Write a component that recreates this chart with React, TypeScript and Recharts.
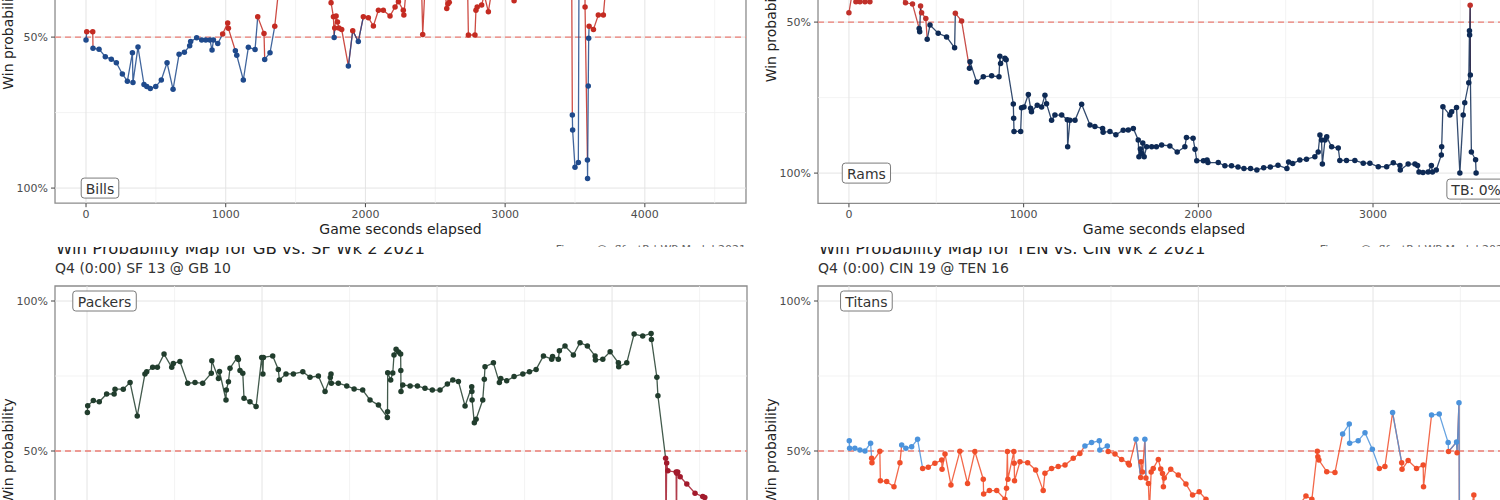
import React from 'react';
import { ComposedChart, Line, XAxis, YAxis, ReferenceLine, ReferenceArea, ReferenceDot } from 'recharts';

const FONT = '"DejaVu Sans", sans-serif';

// ---------- Bills (top-left) ----------
const billsSeconds = [0,5,48,50,93,138,181,217,260,296,332,336,372,415,435,460,499,539,580,623,666,704,742,749,792,828,857,887,902,912,943,978,1014,1019,1069,1079,1126,1162,1210,1229,1274,1279,1317,1351,1400,1500,1600,1700,1754,1771,1776,1780,1790,1800,1810,1830,1878,1909,1949,1985,2021,2057,2093,2128,2176,2212,2236,2271,2275,2300,2400,2410,2430,2560,2582,2590,2600,2620,2730,2737,2784,2791,2800,2832,2850,2880,2920,3064,3100,3300,3475,3481,3483,3500,3524,3530,3570,3572,3589,3590,3595,3598,3601,3632,3667,3703,3727,3900,4200,4440];
const billsWp = [0.51,0.482,0.482,0.537,0.54,0.565,0.573,0.585,0.622,0.646,0.552,0.65,0.533,0.657,0.664,0.67,0.664,0.642,0.585,0.673,0.557,0.55,0.529,0.515,0.502,0.51,0.51,0.51,0.543,0.51,0.521,0.49,0.453,0.471,0.545,0.56,0.642,0.534,0.541,0.433,0.488,0.574,0.552,0.464,0.25,0.2,0.22,0.25,0.386,0.433,0.501,0.47,0.43,0.45,0.47,0.475,0.596,0.479,0.515,0.433,0.436,0.463,0.411,0.411,0.43,0.4,0.383,0.411,0.427,0.3,0.3,0.491,0.3,0.3,0.405,0.39,0.385,0.3,0.3,0.493,0.493,0.411,0.4,0.394,0.36,0.416,0.3,0.38,0.3,0.2,0.15,0.758,0.808,0.931,0.915,0.1,0.1,0.4,0.907,0.968,0.662,0.504,0.464,0.475,0.427,0.427,0.3,0.2,0.1,0.0];

// ---------- Rams (top-right) ----------
const ramsSeconds = [0,20,40,63,92,120,200,280,324,364,402,405,410,416,440,448,464,511,559,605,609,645,690,693,731,769,817,859,864,868,893,900,941,943,945,983,988,1002,1027,1040,1045,1078,1103,1122,1131,1160,1179,1218,1250,1252,1265,1294,1332,1380,1408,1452,1455,1494,1528,1570,1599,1628,1656,1660,1668,1675,1682,1690,1704,1733,1760,1790,1837,1879,1923,1932,1970,1981,1991,2029,2050,2055,2114,2152,2190,2227,2261,2299,2335,2374,2412,2456,2507,2517,2540,2581,2619,2667,2686,2696,2705,2710,2725,2735,2763,2801,2810,2848,2896,2944,2982,3030,3078,3116,3154,3156,3201,3240,3255,3263,3286,3315,3334,3340,3362,3391,3393,3400,3440,3450,3478,3497,3516,3525,3548,3552,3553,3556,3557,3563,3587,3590];
const ramsWp = [0.469,0.40,0.433,0.433,0.433,0.433,0.38,0.40,0.436,0.44,0.521,0.532,0.447,0.469,0.488,0.557,0.51,0.537,0.549,0.585,0.471,0.496,0.653,0.631,0.698,0.681,0.678,0.681,0.613,0.637,0.62,0.625,0.771,0.818,0.862,0.862,0.784,0.781,0.74,0.785,0.797,0.775,0.781,0.742,0.77,0.825,0.808,0.808,0.823,0.913,0.825,0.825,0.772,0.841,0.846,0.852,0.865,0.862,0.873,0.858,0.857,0.852,0.89,0.946,0.92,0.935,0.9,0.946,0.913,0.913,0.913,0.907,0.91,0.93,0.913,0.882,0.885,0.921,0.959,0.959,0.957,0.965,0.965,0.976,0.976,0.98,0.985,0.985,0.99,0.982,0.98,0.974,0.985,0.963,0.968,0.957,0.954,0.946,0.93,0.874,0.89,0.97,0.89,0.88,0.913,0.917,0.958,0.958,0.958,0.967,0.967,0.979,0.979,0.966,0.975,0.99,0.97,0.97,0.975,0.996,0.998,0.996,0.975,0.996,0.99,0.94,0.913,0.78,0.808,0.797,0.783,1.0,0.808,0.767,0.701,0.529,0.543,0.444,0.675,0.93,0.956,1.0];

// ---------- Packers (bottom-left) ----------
const packersSeconds = [2,4,36,70,112,155,160,207,246,287,331,341,375,402,440,484,493,531,575,617,661,710,713,751,757,794,796,808,817,859,865,874,890,897,931,966,998,1005,1008,1061,1093,1099,1137,1179,1233,1274,1322,1360,1390,1394,1396,1436,1484,1526,1575,1617,1665,1716,1717,1718,1735,1747,1754,1766,1780,1792,1793,1794,1804,1846,1888,1931,1973,2017,2059,2090,2122,2160,2198,2199,2200,2213,2223,2261,2270,2274,2322,2356,2364,2398,2440,2490,2528,2566,2608,2655,2660,2693,2699,2731,2779,2817,2859,2903,2905,2947,2989,3036,3038,3084,3126,3175,3223,3225,3256,3262,3306,3308,3312,3319,3366,3368,3370,3375,3389,3427,3474,3518,3530,3560,3600];
const packersWp = [0.628,0.651,0.668,0.664,0.69,0.69,0.706,0.706,0.728,0.617,0.757,0.764,0.779,0.779,0.823,0.779,0.792,0.798,0.726,0.728,0.726,0.759,0.801,0.742,0.765,0.67,0.703,0.731,0.776,0.812,0.805,0.768,0.759,0.676,0.664,0.648,0.812,0.757,0.812,0.817,0.772,0.737,0.757,0.757,0.764,0.746,0.75,0.698,0.745,0.757,0.726,0.726,0.717,0.707,0.703,0.67,0.653,0.612,0.631,0.761,0.737,0.76,0.82,0.839,0.83,0.823,0.768,0.698,0.72,0.717,0.717,0.709,0.703,0.703,0.723,0.737,0.732,0.65,0.714,0.698,0.67,0.594,0.606,0.67,0.739,0.781,0.794,0.728,0.742,0.734,0.748,0.757,0.764,0.772,0.817,0.806,0.815,0.806,0.834,0.85,0.82,0.861,0.85,0.817,0.803,0.806,0.831,0.794,0.781,0.794,0.89,0.883,0.892,0.872,0.746,0.684,0.476,0.2,0.46,0.434,0.43,0.2,0.426,0.43,0.414,0.39,0.359,0.348,0.345,0.2,0.0];

// ---------- Titans (bottom-right) ----------
const titansSeconds = [2,4,34,63,92,124,130,132,177,180,216,258,292,302,326,359,393,422,454,492,531,533,550,584,635,679,721,769,771,804,846,893,902,907,910,944,946,948,979,1023,1069,1112,1122,1160,1198,1237,1284,1322,1351,1389,1433,1436,1479,1484,1523,1561,1599,1605,1643,1670,1672,1680,1694,1700,1714,1720,1730,1742,1771,1785,1795,1800,1805,1842,1885,1929,1967,2005,2044,2100,2250,2400,2550,2616,2650,2681,2684,2690,2735,2782,2826,2864,2866,2915,2954,2996,3036,3068,3112,3164,3166,3201,3249,3287,3289,3335,3379,3430,3432,3478,3481,3492,3495,3577,3600];
const titansWp = [0.534,0.509,0.509,0.503,0.5,0.526,0.476,0.461,0.499,0.401,0.398,0.381,0.461,0.52,0.509,0.514,0.539,0.442,0.446,0.459,0.47,0.439,0.49,0.387,0.499,0.392,0.498,0.406,0.357,0.368,0.368,0.339,0.376,0.498,0.406,0.498,0.459,0.401,0.464,0.461,0.437,0.368,0.426,0.442,0.448,0.453,0.476,0.492,0.517,0.528,0.534,0.503,0.517,0.498,0.49,0.472,0.459,0.453,0.539,0.412,0.464,0.43,0.539,0.41,0.392,0.3,0.43,0.442,0.472,0.44,0.425,0.381,0.41,0.439,0.42,0.39,0.353,0.364,0.339,0.3,0.25,0.28,0.3,0.35,0.339,0.499,0.481,0.47,0.431,0.428,0.557,0.59,0.526,0.534,0.561,0.506,0.442,0.448,0.628,0.461,0.439,0.468,0.442,0.453,0.381,0.62,0.623,0.528,0.498,0.53,0.494,0.661,0.1,0.353,0.0];

// ---------- axis ticks ----------
const xTicksLong = [0, 1000, 2000, 3000, 4000];
const xMinorLong = [500, 1500, 2500, 3500, 4500];
const xTicksShort = [0, 1000, 2000, 3000];
const xMinorShort = [500, 1500, 2500, 3500];
const yTicks = [0, 0.5, 1];
const yMinor = [0.25, 0.75];

const titlePackers = 'Win Probability Map for GB vs. SF Wk 2 2021';
const subtitlePackers = 'Q4 (0:00) SF 13 @ GB 10';
const titleTitans = 'Win Probability Map for TEN vs. CIN Wk 2 2021';
const subtitleTitans = 'Q4 (0:00) CIN 19 @ TEN 16';
const captionText = 'Figure: @nflfastR | WP Model 2021';

type Cfg = {
  id: string;
  seconds: number[];
  wp: number[];
  hi: string;
  lo: string;
  xDomain: [number, number];
  xTicks: number[];
  xMinor: number[];
  yDomain: [number, number];
  reversed: boolean;
  clip: { left: number; top: number; width: number; height: number };
  plotLeft: number;
  plotRight: number;
  y50: number;
  k: number;
  marginLeft: number;
  labels: { text: string; s: number; v: number }[];
  title?: string;
  subtitle?: string;
  caption?: boolean;
};

const CW: Record<string, number> = {
  B: 0.686, i: 0.278, l: 0.278, s: 0.521, R: 0.695, a: 0.613, m: 0.974, P: 0.603, c: 0.55,
  k: 0.579, e: 0.615, r: 0.411, T: 0.61, t: 0.392, n: 0.634, ':': 0.337, ' ': 0.318, '0': 0.636, '%': 0.95,
};
const textW = (t: string, fs: number) => t.split('').reduce((a, ch) => a + (CW[ch] ?? 0.6), 0) * fs;

const pct = (v: number) => `${Math.round(v * 100)}%`;

const makeLabel = (text: string) => (p: any) => {
  const { cx, cy } = p;
  if (cx == null || cy == null) return <g />;
  const w = textW(text, 14) + 9;
  const h = 20;
  return (
    <g>
      <rect x={cx - w / 2} y={cy - h / 2} width={w} height={h} rx={3} ry={3} fill="#fff" stroke="#7a7a7a" strokeWidth={1} />
      <text x={cx} y={cy + 0.5} textAnchor="middle" dominantBaseline="central" fontSize={14} fill="#333" fontFamily={FONT}>
        {text}
      </text>
    </g>
  );
};

function buildRows(seconds: number[], wp: number[]) {
  const n = Math.min(seconds.length, wp.length);
  const rows: any[] = [];
  for (let i = 0; i < n; i++) rows.push({ s: seconds[i], v: wp[i], hiSeg: null, loSeg: null });
  for (let i = 0; i < n - 1; i++) {
    const key = wp[i] >= 0.5 ? 'hiSeg' : 'loSeg';
    rows[i][key] = wp[i];
    rows[i + 1][key] = wp[i + 1];
  }
  return rows;
}

const MT = 5;
const MB = 5;
const MR = 5;
const XH = 35;

function Panel({ cfg }: { cfg: Cfg }) {
  const rows = buildRows(cfg.seconds, cfg.wp);
  const { clip, reversed, yDomain, y50, k } = cfg;
  const plotTop = reversed ? y50 + (yDomain[0] - 0.5) * k : y50 - (yDomain[1] - 0.5) * k;
  const plotBottom = reversed ? y50 + (yDomain[1] - 0.5) * k : y50 - (yDomain[0] - 0.5) * k;
  const chartTop = plotTop - MT - clip.top;
  const chartH = MT + (plotBottom - plotTop) + XH + MB;
  const chartW = cfg.plotRight - clip.left + MR;
  const yW = cfg.plotLeft - clip.left - cfg.marginLeft;

  const dotFn = (p: any) => {
    const { cx, cy, payload, index } = p;
    if (cx == null || cy == null || !isFinite(cx) || !isFinite(cy)) return <g key={`d${index}`} />;
    return <circle key={`d${index}`} cx={cx} cy={cy} r={2.75} fill={payload.v >= 0.5 ? cfg.hi : cfg.lo} />;
  };

  const xLabel = (p: any) => {
    const vb = p.viewBox || {};
    return (
      <text x={vb.x + vb.width / 2} y={vb.y + 26} textAnchor="middle" dominantBaseline="central" fontSize={14} fill="#222" fontFamily={FONT}>
        Game seconds elapsed
      </text>
    );
  };
  const yLabel = (p: any) => {
    const vb = p.viewBox || {};
    const x = vb.x + 8;
    const y = vb.y + vb.height / 2;
    return (
      <text x={x} y={y} transform={`rotate(-90, ${x}, ${y})`} textAnchor="middle" dominantBaseline="central" fontSize={14} fill="#222" fontFamily={FONT}>
        Win probability
      </text>
    );
  };

  return (
    <div style={{ position: 'absolute', left: clip.left, top: clip.top, width: clip.width, height: clip.height, overflow: 'hidden', background: '#fff' }}>
      <div style={{ position: 'absolute', left: 0, top: chartTop }}>
        <ComposedChart width={chartW} height={chartH} data={rows} margin={{ top: MT, right: MR, bottom: MB, left: cfg.marginLeft }}>
          <XAxis
            type="number"
            dataKey="s"
            domain={cfg.xDomain}
            ticks={cfg.xTicks}
            interval={0}
            allowDataOverflow
            height={XH}
            axisLine={false}
            tickSize={4}
            tickMargin={3}
            tickLine={{ stroke: '#444' }}
            tick={{ fontSize: 11, fill: '#4d4d4d', fontFamily: FONT }}
            label={{ content: xLabel }}
          />
          <YAxis
            type="number"
            domain={cfg.yDomain}
            ticks={yTicks}
            interval={0}
            reversed={reversed}
            allowDataOverflow
            width={yW}
            axisLine={false}
            tickSize={4}
            tickMargin={3}
            tickLine={{ stroke: '#444' }}
            tickFormatter={pct}
            tick={{ fontSize: 11, fill: '#4d4d4d', fontFamily: FONT }}
            label={{ content: yLabel }}
          />
          {cfg.xMinor.map((x) => (
            <ReferenceLine key={`xm${x}`} x={x} stroke="#f0f0f0" strokeWidth={0.8} />
          ))}
          {yMinor.map((y) => (
            <ReferenceLine key={`ym${y}`} y={y} stroke="#f0f0f0" strokeWidth={0.8} />
          ))}
          {cfg.xTicks.map((x) => (
            <ReferenceLine key={`xM${x}`} x={x} stroke="#e4e4e4" strokeWidth={1} />
          ))}
          {yTicks.map((y) => (
            <ReferenceLine key={`yM${y}`} y={y} stroke="#e4e4e4" strokeWidth={1} />
          ))}
          <ReferenceArea x1={cfg.xDomain[0]} x2={cfg.xDomain[1]} y1={cfg.yDomain[0]} y2={cfg.yDomain[1]} fill="none" fillOpacity={0} stroke="#8c8c8c" strokeWidth={1.3} />
          <ReferenceLine y={0.5} stroke="#ec7d74" strokeDasharray="6 4" strokeWidth={1.3} />
          <Line type="linear" dataKey="loSeg" stroke={cfg.lo} strokeOpacity={0.85} strokeWidth={1.3} dot={false} activeDot={false} connectNulls={false} isAnimationActive={false} />
          <Line type="linear" dataKey="hiSeg" stroke={cfg.hi} strokeOpacity={0.85} strokeWidth={1.3} dot={false} activeDot={false} connectNulls={false} isAnimationActive={false} />
          <Line type="linear" dataKey="v" stroke="none" strokeWidth={0} dot={dotFn} activeDot={false} isAnimationActive={false} />
          {cfg.labels.map((lb) => (
            <ReferenceDot key={lb.text} x={lb.s} y={lb.v} r={0} ifOverflow="visible" shape={makeLabel(lb.text)} />
          ))}
        </ComposedChart>
      </div>
      <svg width={clip.width} height={clip.height} style={{ position: 'absolute', left: 0, top: 0, pointerEvents: 'none' }}>
        {cfg.title && (
          <text x={cfg.plotLeft - clip.left + 1} y={254 - clip.top} fontSize={16.5} fill="#222" fontFamily={FONT}>
            {cfg.title}
          </text>
        )}
        {cfg.subtitle && (
          <text x={cfg.plotLeft - clip.left} y={272.5 - clip.top} fontSize={14} fill="#333" fontFamily={FONT}>
            {cfg.subtitle}
          </text>
        )}
        {cfg.caption && (
          <text x={cfg.plotRight - clip.left} y={253 - clip.top} textAnchor="end" fontSize={11} fill="#666" fontFamily={FONT}>
            {captionText}
          </text>
        )}
      </svg>
    </div>
  );
}

const panels: Cfg[] = [
  {
    id: 'bills', seconds: billsSeconds, wp: billsWp, hi: '#1f4a8c', lo: '#c42b22',
    xDomain: [-222, 4724], xTicks: xTicksLong, xMinor: xMinorLong,
    yDomain: [-0.05, 1.05], reversed: true,
    clip: { left: 0, top: 0, width: 750, height: 247 },
    plotLeft: 55, plotRight: 746, y50: 37, k: 302, marginLeft: 0,
    labels: [{ text: 'Bills', s: 100, v: 1 }], caption: true,
  },
  {
    id: 'rams', seconds: ramsSeconds, wp: ramsWp, hi: '#0e2a55', lo: '#c0302a',
    xDomain: [-177, 3784], xTicks: xTicksShort, xMinor: xMinorShort,
    yDomain: [-0.05, 1.1], reversed: true,
    clip: { left: 750, top: 0, width: 750, height: 247 },
    plotLeft: 818, plotRight: 1510, y50: 22, k: 302, marginLeft: 13,
    labels: [{ text: 'Rams', s: 100, v: 1 }, { text: 'TB: 0%', s: 3590, v: 1.053 }], caption: true,
  },
  {
    id: 'packers', seconds: packersSeconds, wp: packersWp, hi: '#213d2d', lo: '#a21a2c',
    xDomain: [-183, 3771], xTicks: xTicksShort, xMinor: xMinorShort,
    yDomain: [-0.05, 1.05], reversed: false,
    clip: { left: 0, top: 247, width: 750, height: 253 },
    plotLeft: 55, plotRight: 747, y50: 451, k: 300, marginLeft: 0,
    labels: [{ text: 'Packers', s: 100, v: 1 }], title: titlePackers, subtitle: subtitlePackers,
  },
  {
    id: 'titans', seconds: titansSeconds, wp: titansWp, hi: '#4b93dc', lo: '#f04e2a',
    xDomain: [-177, 3784], xTicks: xTicksShort, xMinor: xMinorShort,
    yDomain: [-0.05, 1.05], reversed: false,
    clip: { left: 750, top: 247, width: 750, height: 253 },
    plotLeft: 818, plotRight: 1510, y50: 451, k: 300, marginLeft: 13,
    labels: [{ text: 'Titans', s: 100, v: 1 }], title: titleTitans, subtitle: subtitleTitans,
  },
];

export default function App() {
  return (
    <div style={{ position: 'fixed', left: 0, top: 0, width: 1500, height: 500, overflow: 'hidden', background: '#fff', fontFamily: FONT }}>
      {panels.map((p) => (
        <Panel key={p.id} cfg={p} />
      ))}
    </div>
  );
}
